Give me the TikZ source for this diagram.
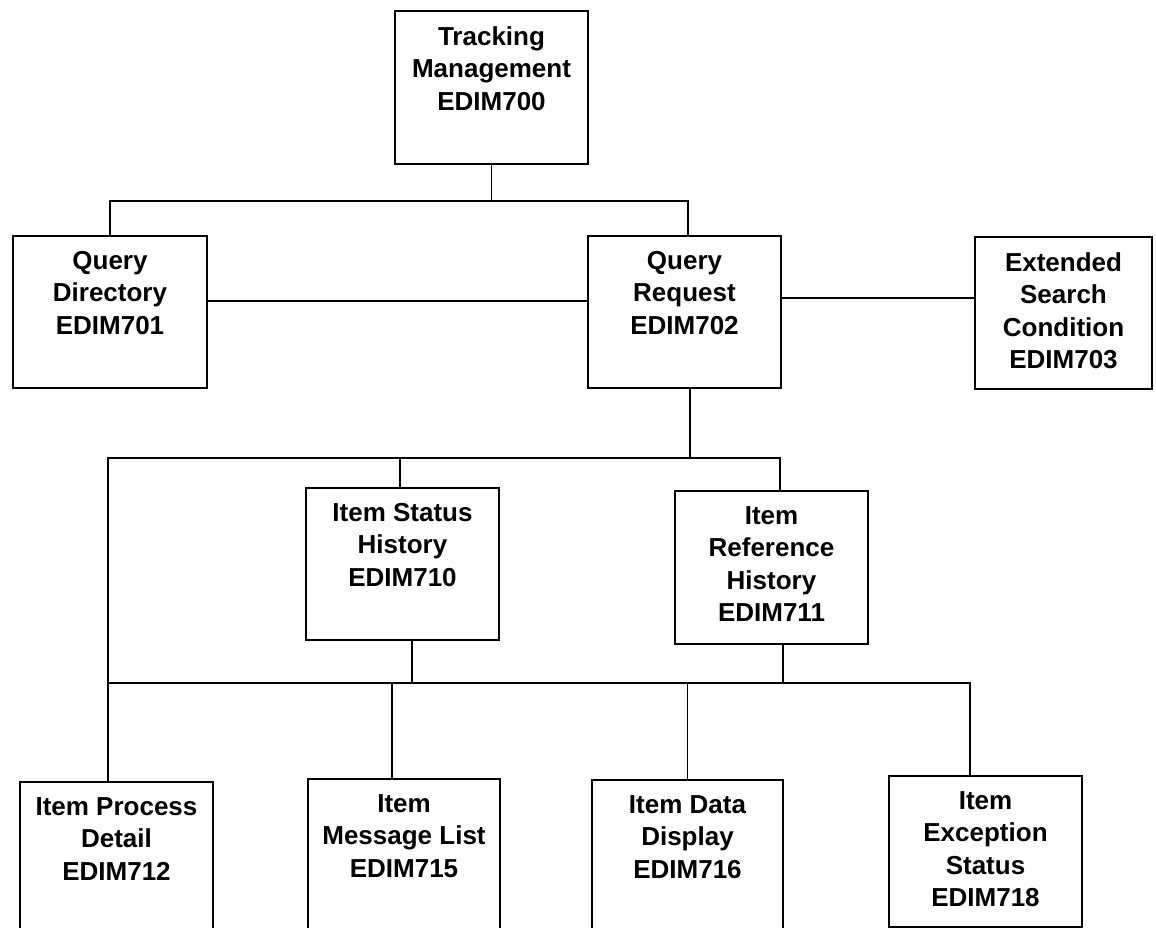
\documentclass[tikz,border=0pt]{standalone}
\usepackage{fontspec}
\setmainfont{Liberation Sans}
\begin{document}
\begin{tikzpicture}[
     x=1pt,y=-1pt,
     blk/.style={draw,line width=2pt,anchor=north west,inner sep=0pt,
       minimum width=193pt,minimum height=152pt},
     lbl/.style={anchor=north,align=center,inner sep=0pt,yshift=-16pt,
       font=\bfseries\fontsize{26}{32.5}\selectfont},
     wire/.style={line width=1.8pt}
   ]
   \path[use as bounding box] (0,0) rectangle (1156,928);
   \coordinate (bus1) at (0,201);
   \coordinate (bus2) at (0,458);
   \coordinate (bus3) at (0,683);
   % Screens.
   \node[blk,minimum height=153pt] (tm) at (394,10) {};
   \node[lbl] (tm-t) at (tm.north) {Tracking\\Management\\EDIM700};
   \node[blk,minimum width=194pt] (qd) at (12,235) {};
   \node[lbl] (qd-t) at (qd.north) {Query\\Directory\\EDIM701};
   \node[blk] (qr) at (587,235) {};
   \node[lbl] (qr-t) at (qr.north) {Query\\Request\\EDIM702};
   \node[blk,minimum width=177pt] (qe) at (974,236) {};
   \node[lbl] (qe-t) at (qe.north) {Extended\\Search\\Condition\\EDIM703};
   \node[blk] (ish) at (305,487) {};
   \node[lbl] (ish-t) at (ish.north) {Item Status\\History\\EDIM710};
   \node[blk,minimum height=153pt] (irh) at (674,490) {};
   \node[lbl] (irh-t) at (irh.north) {Item\\Reference\\History\\EDIM711};
   \node[blk,minimum height=160pt] (ipd) at (19,781) {};
   \node[lbl] (ipd-t) at (ipd.north) {Item Process\\Detail\\EDIM712};
   \node[blk,minimum width=192pt,minimum height=160pt] (iml) at (307,778) {};
   \node[lbl] (iml-t) at (iml.north) {Item\\Message List\\EDIM715};
   \node[blk,minimum width=191pt,minimum height=160pt] (idd) at (591,779) {};
   \node[lbl] (idd-t) at (idd.north) {Item Data\\Display\\EDIM716};
   \node[blk,minimum height=151pt] (ies) at (888,775) {};
   \node[lbl] (ies-t) at (ies.north) {Item\\Exception\\Status\\EDIM718};
   % Top level.
   \draw[wire] (tm.south) -- (tm.south |- bus1);
   \draw[wire] (qd.north) |- ([xshift=3.5pt]qr.north |- bus1) -- ([xshift=3.5pt]qr.north);
   \draw[wire] ([yshift=11pt]qd.east) -- ([yshift=11pt]qd.east -| qr.west);
   \draw[wire] ([yshift=14pt]qr.east) -- ([yshift=14pt]qr.east -| qe.west);
   % Second level.
   \draw[wire] ([xshift=5.5pt]qr.south) -- ([xshift=5.5pt]qr.south |- bus2);
   \draw[wire] ([xshift=-8.5pt]ipd.north) |- ([xshift=8.5pt]irh.north |- bus2) -- ([xshift=8.5pt]irh.north);
   \draw[wire] ([xshift=-2.5pt]ish.north) -- ([xshift=-2.5pt]ish.north |- bus2);
   % Third level.
   \draw[wire] ([xshift=9.5pt]ish.south) -- ([xshift=9.5pt]ish.south |- bus3);
   \draw[wire] ([xshift=11.5pt]irh.south) -- ([xshift=11.5pt]irh.south |- bus3);
   \draw[wire] ([xshift=-8.5pt]ipd.north |- bus3) -| ([xshift=-15.5pt]ies.north);
   \draw[wire] ([xshift=-12pt]iml.north) -- ([xshift=-12pt]iml.north |- bus3);
   \draw[wire] (idd.north) -- (idd.north |- bus3);
 \end{tikzpicture}
\end{document}
